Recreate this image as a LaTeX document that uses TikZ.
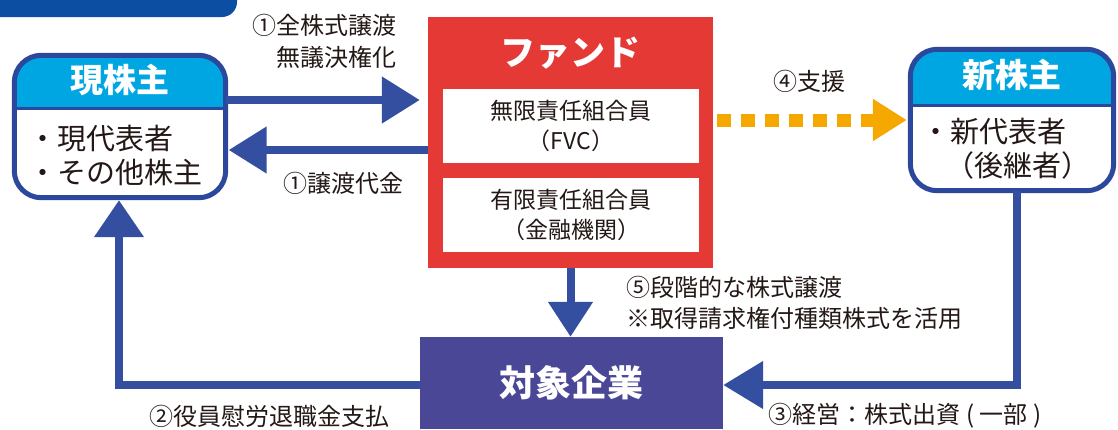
\documentclass[tikz,border=0pt]{standalone}
\usepackage{fontspec}
\setmainfont{Noto Sans CJK JP}
\usetikzlibrary{positioning, arrows.meta, calc}

\definecolor{frameblue}{HTML}{2C489C}
\definecolor{arrowblue}{HTML}{344F9F}
\definecolor{headcyan}{HTML}{00A6E2}
\definecolor{fundred}{HTML}{E53935}
\definecolor{supportorange}{HTML}{F5A800}
\definecolor{firmpurple}{HTML}{4A4797}
\definecolor{textdark}{HTML}{231815}
\definecolor{bannerblue}{HTML}{0B4EA2}

\begin{document}
\begin{tikzpicture}[
        x=1pt, y=-1pt,
        every node/.style={text=textdark},
        holder/.style={fill=white, inner sep=0pt},
        heading/.style={text=white, font=\fontsize{33}{40}\selectfont\bfseries},
        body/.style={align=left, inner sep=0pt, font=\fontsize{29}{34}\selectfont},
        member/.style={fill=white, minimum width=256pt, minimum height=74pt, align=center, font=\fontsize{23}{30}\selectfont},
        lbl/.style={font=\fontsize{24}{32}\selectfont},
        flow/.style={draw=arrowblue, line width=8pt, -{Triangle[length=38pt, width=45pt]}},
        support/.style={draw=supportorange, line width=13pt, dash pattern=on 14pt off 10pt, -{Triangle[length=34pt, width=40pt]}},
    ]
        \useasboundingbox (0,0) rectangle (1118,429);

        % Banner cut off at the top
        \fill[bannerblue, rounded corners=15pt] (-30,-30) rectangle (237,17);

        % Draw the shareholder boxes
        \node[holder, minimum width=211pt, minimum height=142pt] (cur) at (120,126.5) {};
        \node[holder, minimum width=203pt, minimum height=141pt] (new) at (1012,120) {};
        \foreach \name / \y in {cur/108, new/105} {
            \begin{scope}
                \clip[rounded corners=27pt] (\name.north west) rectangle (\name.south east);
                \fill[headcyan] (\name.north west) rectangle (\name.east |- 0,\y);
            \end{scope}
            \draw[frameblue, line width=3pt] (\name.west |- 0,\y) -- (\name.east |- 0,\y);
            \draw[frameblue, line width=5pt, rounded corners=27pt] (\name.north west) rectangle (\name.south east);
        }
        \node[heading] (cur-title) at (120,80) {現株主};
        \node[body, anchor=west] (cur-body) at (28,155) {・現代表者\\・その他株主};
        \node[heading] (new-title) at (1012,75) {新株主};
        \node[body, anchor=west] (new-body) at (921,149) {・新代表者\\\hspace*{24pt}（後継者）};

        % Draw the fund and its members
        \node[fill=fundred, minimum width=285pt, minimum height=251pt] (fund) at (570.5,142.5) {};
        \node[heading, font=\fontsize{35}{40}\selectfont\bfseries] (fund-title) at (570.5,53) {ファンド};
        \node[member] (gp) at (571,126) {無限責任組合員\\（FVC）};
        \node[member] (lp) at (571,215) {有限責任組合員\\（金融機関）};

        % Draw the target company
        \node[fill=firmpurple, minimum width=303pt, minimum height=92pt] (firm) at (571.5,383) {};
        \node[heading, font=\fontsize{36}{42}\selectfont\bfseries] (firm-title) at (571.5,383) {対象企業};

        % Connect the boxes
        \coordinate (sell) at ([yshift=26.5pt]cur.east);
        \coordinate (pay) at ([yshift=-23.5pt]cur.east);
        \coordinate (retire) at ([xshift=-1pt]cur.south);
        \coordinate (invest) at ([xshift=5pt]new.south);
        \draw[flow, shorten >=8pt] (sell) -- (sell -| fund.west);
        \draw[flow, shorten >=3pt] (pay -| fund.west) -- (pay);
        \draw[flow, -{Triangle[length=35pt, width=43pt]}] (fund.south) -- (fund.south |- firm.north);
        \draw[flow, -{Triangle[length=37pt, width=48pt]}, shorten >=2.5pt] ([yshift=-2pt]firm.west) -| (retire);
        \draw[flow, -{Triangle[length=40pt, width=46pt]}] (invest) |- ([yshift=-2pt]firm.east);
        \draw[support, shorten <=4pt, shorten >=3.5pt] (fund.east |- 0,120) -- (new.west |- 0,120);

        % Labels on the connectors
        \node[lbl, align=right, anchor=east] (sell-lbl) at (400,41) {①全株式譲渡\\無議決権化};
        \node[lbl] (pay-lbl) at (343,183) {①譲渡代金};
        \node[lbl] (support-lbl) at (809,81) {④支援};
        \node[lbl, font=\fontsize{24}{31}\selectfont, align=left, anchor=west, inner sep=0pt] (stage-lbl) at (626,302.5) {⑤段階的な株式譲渡\\※取得請求権付種類株式を活用};
        \node[lbl] (retire-lbl) at (269,416) {②役員慰労退職金支払};
        \node[lbl] (invest-lbl) at (905,416) {③経営：株式出資 ( 一部 )};
\end{tikzpicture}
\end{document}
